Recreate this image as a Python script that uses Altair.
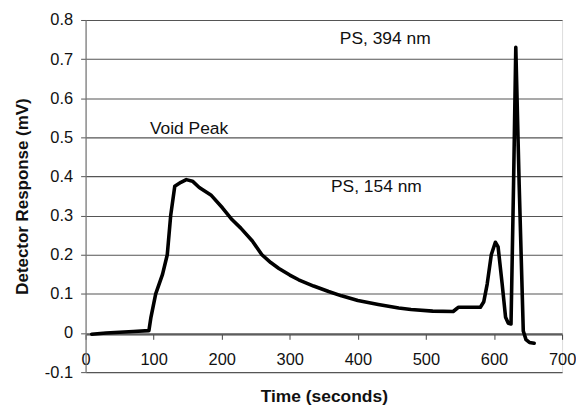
import altair as alt
import pandas as pd

# Chromatogram trace
time_s = [9, 30, 50, 70, 93, 96, 103, 113, 120, 125, 131, 140, 148, 157, 167,
          184, 201, 215, 228, 245, 259, 272, 284, 300, 313, 335, 357, 376, 400,
          430, 460, 478, 510, 540, 545, 548, 565, 580, 585, 590, 596, 602, 606,
          612, 617, 621, 625, 628.7, 632, 637, 643, 647, 652, 659]
response_mv = [-0.003, 0.0, 0.002, 0.004, 0.006, 0.04, 0.1, 0.15, 0.2, 0.3,
               0.375, 0.385, 0.392, 0.388, 0.372, 0.353, 0.32, 0.29, 0.268,
               0.235, 0.2, 0.18, 0.165, 0.148, 0.136, 0.12, 0.106, 0.095, 0.083,
               0.073, 0.064, 0.06, 0.056, 0.055, 0.062, 0.066, 0.066, 0.066,
               0.08, 0.125, 0.2, 0.232, 0.22, 0.125, 0.04, 0.025, 0.023, 0.378,
               0.73, 0.378, 0.005, -0.017, -0.024, -0.026]

# Annotations
note_text = ["PS, 394 nm", "Void Peak", "PS, 154 nm"]
note_t = [373.5, 94.5, 360.5]
note_v = [0.752, 0.522, 0.373]

x_ticks = [0, 100, 200, 300, 400, 500, 600, 700]
y_ticks = [-0.1, 0.0, 0.1, 0.2, 0.3, 0.4, 0.5, 0.6, 0.7, 0.8]

FONT = "Liberation Sans"

trace = pd.DataFrame({"t": time_s, "v": response_mv})
notes = pd.DataFrame({"label": note_text, "t": note_t, "v": note_v})

x_scale = alt.Scale(domain=[0, 700], nice=False, zero=False)
y_scale = alt.Scale(domain=[-0.1, 0.8], nice=False, zero=False)

x_axis = alt.Axis(
    values=x_ticks, tickCount=20, title="Time (seconds)", grid=False,
    offset=-38, domainColor="#444", domainWidth=1.2,
    tickColor="#444", tickSize=5, labelPadding=12,
    labelFont=FONT, labelFontSize=16.5, labelColor="#111",
    labelFlush=False, labelOverlap=False,
    titleFont=FONT, titleFontSize=17.5, titleFontWeight="bold",
    titleColor="#111", titleX=239.5, titleY=63,
    titleBaseline="middle", titleAlign="center")
y_axis = alt.Axis(
    values=y_ticks, tickCount=20, title="Detector  Response (mV)", grid=True,
    gridColor="#555", gridWidth=1.1,
    domainColor="#777", domainWidth=1.2,
    tickColor="#555", tickSize=5, labelPadding=8,
    labelExpr="replace(format(datum.value, '.1~f'), '\u2212', '-')",
    labelFont=FONT, labelFontSize=16.5, labelColor="#111",
    labelFlush=False, labelOverlap=False,
    titleFont=FONT, titleFontSize=17, titleFontWeight="bold",
    titleColor="#111", titleX=-63, titleY=177, titleAngle=-90,
    titleBaseline="middle", titleAlign="center")

line = alt.Chart(trace).mark_line(
    color="black", strokeWidth=3.6, strokeJoin="round", strokeCap="round"
).encode(
    x=alt.X("t:Q", scale=x_scale, axis=x_axis),
    y=alt.Y("v:Q", scale=y_scale, axis=y_axis),
    order=alt.Order("t:Q"),
)

text = alt.Chart(notes).mark_text(
    align="left", baseline="middle", font=FONT, fontSize=17.5, color="#111"
).encode(
    x=alt.X("t:Q", scale=x_scale, axis=x_axis),
    y=alt.Y("v:Q", scale=y_scale, axis=y_axis),
    text="label:N",
)

chart = alt.layer(line, text).properties(
    width=479, height=354,
    autosize=alt.AutoSizeParams(type="none"),
    padding={"left": 78, "top": 11, "right": 14, "bottom": 34},
).configure_view(stroke="#777", strokeWidth=1.2).configure(background="white")

chart.save("out.html", embed_options={"renderer": "svg", "actions": False})
